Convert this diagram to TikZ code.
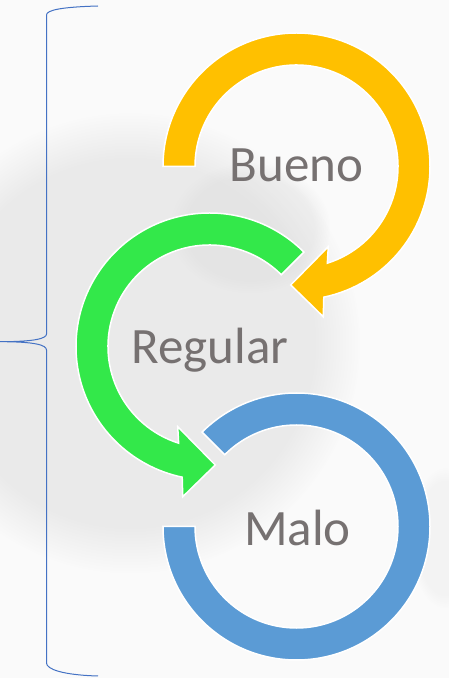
\documentclass[tikz,border=0pt]{standalone}
\usepackage{fontspec}
\setmainfont{Carlito}
\usetikzlibrary{calc,fadings}
\definecolor{bgc}{HTML}{FAFAFA}
\definecolor{shadec}{HTML}{D8D8D8}
\definecolor{ycol}{HTML}{FFC000}
\definecolor{gcol}{HTML}{33E84A}
\definecolor{bcol}{HTML}{5B9BD5}
\definecolor{brc}{HTML}{4472C4}
\definecolor{txc}{HTML}{767171}
\tikzset{
  ring/.style={draw=white, line width=1.5pt},
  lbl/.style={font=\fontsize{51}{60}\selectfont, text=txc, inner sep=0pt, anchor=base},
  bracepath/.style={draw=brc, line width=1pt},
  blob/.style={fill=shadec, path fading=circle with fuzzy edge 20 percent}
}
\begin{document}
\begin{tikzpicture}[x=1pt,y=1pt]
\useasboundingbox (0,0) rectangle (449,678);
\fill[bgc] (0,0) rectangle (449,678);
% faint background shading
\fill[blob, opacity=0.45] (130,335) ellipse [x radius=230pt, y radius=230pt];
\fill[blob, opacity=0.3] (250,450) ellipse [x radius=80pt, y radius=65pt];
\fill[blob, opacity=0.2] (445,140) ellipse [x radius=35pt, y radius=70pt];

\coordinate (Y) at (296.5,511.5);
\coordinate (G) at (209.5,331.5);
\coordinate (B) at (296.5,151.5);

% blue ring (Malo)
\fill[bcol, ring] ($(B)+(180:133.5pt)$) arc[start angle=180, end angle=495, radius=133.5pt]
  -- ($(B)+(135:101.5pt)$) arc[start angle=495, end angle=180, radius=101.5pt] -- cycle;

% green arrow (Regular)
\fill[gcol, ring] ($(G)+(45:133.5pt)$) arc[start angle=45, end angle=258.2, radius=133.5pt]
  -- ($(G)+(259.9:152.6pt)$) -- ($(G)+(272.8:118.6pt)$) -- ($(G)+(248.4:86.3pt)$)
  -- ($(G)+(252.3:101.5pt)$) arc[start angle=252.3, end angle=45, radius=101.5pt] -- cycle;

% yellow arrow (Bueno)
\fill[ycol, ring] ($(Y)+(180:133.5pt)$) arc[start angle=180, end angle=-78.2, radius=133.5pt]
  -- ($(Y)+(-79.9:152.6pt)$) -- ($(Y)+(-92.8:118.6pt)$) -- ($(Y)+(-68.4:86.3pt)$)
  -- ($(Y)+(-72.3:101.5pt)$) arc[start angle=-72.3, end angle=180, radius=101.5pt] -- cycle;

% labels
\node[lbl] (bueno) at (296.5,496.3) {Bueno};
\node[lbl] (regular) at (210,314.7) {Regular};
\node[lbl] (malo) at (297.5,132.3) {Malo};

% brace
\coordinate (btop) at (98,672);
\coordinate (btip) at (0,336.3);
\coordinate (bbot) at (98,2);
\draw[bracepath] (btop) .. controls (62,671) and (46.5,668) .. (46.5,663)
  -- (46.5,344) .. controls (46.5,339.5) and (35,336.3) .. (btip)
  .. controls (35,336.3) and (46.5,333) .. (46.5,328)
  -- (46.5,15) .. controls (46.5,9) and (62,3) .. (bbot);
\end{tikzpicture}
\end{document}
